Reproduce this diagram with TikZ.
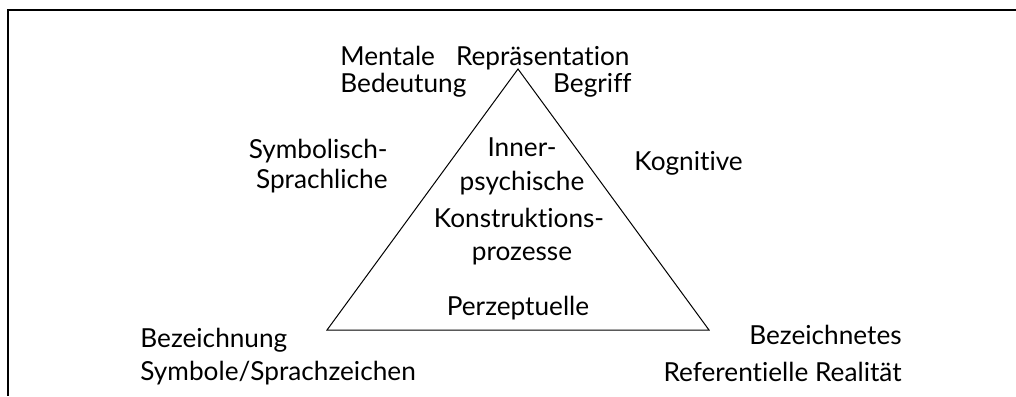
\documentclass[tikz,border=0pt]{standalone}
\usepackage{fontspec}
\setmainfont{Lato}[RawFeature=-liga]

\begin{document}
\begin{tikzpicture}[x=0.5pt, y=-0.5pt, font=\fontsize{13.1}{15}\selectfont,
    txt/.style={inner sep=0pt}]
    % 画布范围
    \useasboundingbox (0,0) rectangle (1016,396);

    % 外框 (只有上边和左边)
    \draw[line width=0.8pt] (1016,10) -- (8,10) -- (8,396);

    % 三角形三个顶点
    \coordinate (apex) at (518,69);
    \coordinate (links) at (327,330);
    \coordinate (rechts) at (709,330);
    \draw[line width=0.5pt] (links) -- (apex) -- (rechts) -- cycle;

    % 顶点上方: 心理表征
    \node[txt, anchor=base west] (mental) at (340,65) {Mentale\hspace{0.8em}Repräsentation};
    \node[txt, anchor=base west] (bedeutung) at (340,92) {Bedeutung};
    \node[txt, anchor=base east] (begriff) at (632,92) {Begriff};

    % 两条斜边旁的标注
    \node[txt, anchor=base east] (symb) at (388,158) {Symbolisch-};
    \node[txt, anchor=base east] (sprach) at (388,188) {Sprachliche};
    \node[txt, anchor=base west] (kogn) at (634,170) {Kognitive};

    % 三角形内部
    \node[txt, anchor=base] (inner) at (522,156) {Inner-};
    \node[txt, anchor=base] (psych) at (522,190) {psychische};
    \node[txt, anchor=base] (konstr) at (519,227) {Konstruktions-};
    \node[txt, anchor=base] (prozesse) at (522,260) {prozesse};
    \node[txt, anchor=base] (perz) at (518,315) {Perzeptuelle};

    % 左下角: 符号
    \node[txt, anchor=base west] (bez) at (140,347) {Bezeichnung};
    \node[txt, anchor=base west] (symbole) at (140,380) {Symbole/Sprachzeichen};

    % 右下角: 所指
    \node[txt, anchor=base east] (bezn) at (902,344) {Bezeichnetes};
    \node[txt, anchor=base east] (real) at (902,381) {Referentielle Realität};
\end{tikzpicture}
\end{document}
